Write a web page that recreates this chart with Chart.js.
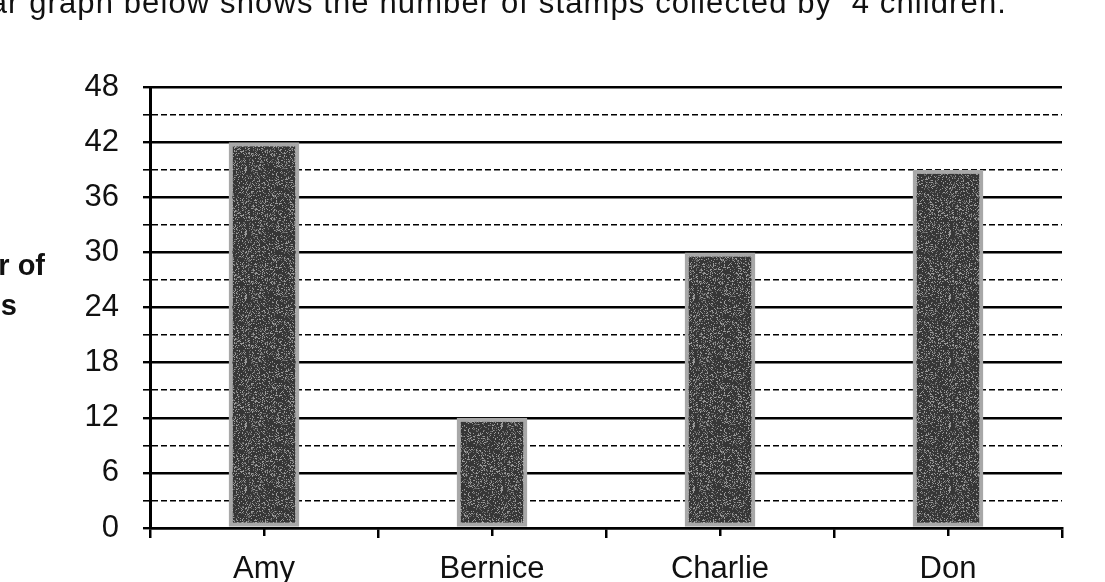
<!DOCTYPE html>
<html>
<head>
<meta charset="utf-8">
<script src="https://cdn.jsdelivr.net/npm/chart.js"></script>
<style>
  body { margin: 0; background: #fff; width: 1105px; height: 582px; overflow: hidden; position: relative;
         font-family: "Liberation Sans", Arial, sans-serif; color: #111; }
  #chart { position: absolute; left: 0; top: 0; }
  #caption { position: absolute; top: -12px; left: 0; white-space: pre; font-size: 31px; line-height: 30px; }
  .ytitle { position: absolute; font-weight: bold; font-size: 29px; line-height: 30px; white-space: pre; }
  #yt1 { top: 250px; right: 1060px; }
  #yt2 { top: 290px; right: 1088px; }
</style>
</head>
<body>
<canvas id="chart" width="1105" height="582"></canvas>
<div id="caption"><span id="pre">The ba</span><span id="vis">r graph below shows the number of stamps collected by  4 children.</span></div>
<div class="ytitle" id="yt1">Number of</div>
<div class="ytitle" id="yt2">stamps</div>
<script>
const children = ["Amy", "Bernice", "Charlie", "Don"];
const stamps = [42, 12, 30, 39];
const yLabels = [0, 6, 12, 18, 24, 30, 36, 42, 48];

// caption is cut off at the left edge like the scan; stretch it to the scan's width
const cap = document.getElementById("caption");
const pre = document.getElementById("pre");
const vis = document.getElementById("vis");
const natural = vis.getBoundingClientRect().width;
const ls = (999 - natural) / vis.textContent.length;
cap.style.letterSpacing = ls + "px";
cap.style.left = (8 - pre.getBoundingClientRect().width) + "px";

// grey speckled fill for the bars
function speckle() {
  const c = document.createElement("canvas");
  c.width = c.height = 64;
  const g = c.getContext("2d");
  g.fillStyle = "#363636";
  g.fillRect(0, 0, 64, 64);
  for (let y = 0; y < 64; y++) {
    for (let x = 0; x < 64; x++) {
      let h = Math.imul(x, 374761393) ^ Math.imul(y, 668265263);
      h = Math.imul(h ^ (h >>> 13), 1274126177);
      h = (h ^ (h >>> 16)) >>> 0;
      const v = h & 255;
      if (v < 70) {
        g.fillStyle = (h >> 8) & 1 ? "#9a9a9a" : "#6a6a6a";
        g.fillRect(x, y, 1, 1);
      }
    }
  }
  return g.createPattern(c, "repeat");
}

const font = { family: '"Liberation Sans", Arial, sans-serif', size: 31 };

new Chart(document.getElementById("chart"), {
  type: "bar",
  data: {
    labels: children,
    datasets: [{
      data: stamps,
      backgroundColor: speckle(),
      borderColor: "#a8a8a8",
      borderWidth: 4,
      borderSkipped: false,
      barPercentage: 0.31,
      categoryPercentage: 1
    }]
  },
  options: {
    responsive: false,
    animation: false,
    layout: { padding: { top: 87, right: 43, left: 0, bottom: 0 } },
    plugins: { legend: { display: false }, tooltip: { enabled: false } },
    scales: {
      x: {
        offset: true,
        weight: 1,
        grid: { offset: true, drawOnChartArea: false, tickLength: 10, color: "#000", lineWidth: 2.5 },
        border: { color: "#000", width: 2.5 },
        ticks: { color: "#111", font: font, padding: 13 },
        afterFit(s) { s.height = 54; }
      },
      // second bottom axis, zero height, only for the short ticks under each name
      xc: {
        type: "category",
        position: "bottom",
        offset: true,
        weight: 0,
        grid: { offset: false, drawOnChartArea: false, tickLength: 8, color: "#000", lineWidth: 2.5 },
        border: { display: false },
        ticks: { display: false },
        afterFit(s) { s.height = 0; }
      },
      y: {
        min: 0,
        max: 48,
        ticks: {
          stepSize: 3,
          autoSkip: false,
          color: "#111",
          font: font,
          padding: 24,
          callback: v => yLabels.includes(v) ? String(v) : ""
        },
        grid: {
          color: "#000",
          tickLength: 7,
          lineWidth: c => (c.tick && c.tick.value % 6) ? 1.6 : 2.4
        },
        border: {
          color: "#000",
          width: 3,
          dash: c => (c.tick && c.tick.value % 6) ? [6, 3] : []
        },
        afterFit(s) { s.width = 150; }
      }
    }
  }
});
</script>
</body>
</html>
